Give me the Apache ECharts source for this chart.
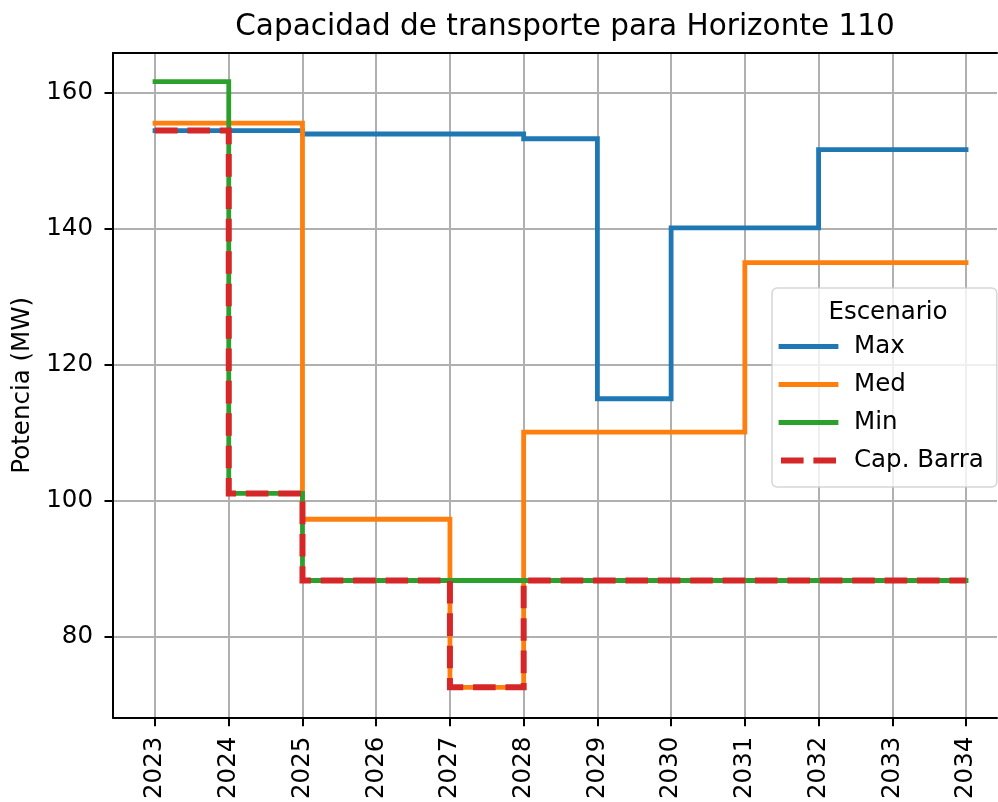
<!DOCTYPE html>
<html>
<head>
<meta charset="utf-8">
<script src="https://cdn.jsdelivr.net/npm/echarts@6/dist/echarts.min.js"></script>
<style>
  html, body { margin: 0; padding: 0; background: #fff; }
  #main { width: 998px; height: 802px; }
</style>
</head>
<body>
<div id="main"></div>
<script>
// datos
var years = [2023, 2024, 2025, 2026, 2027, 2028, 2029, 2030, 2031, 2032, 2033, 2034];
var maxVals = [154.4, 154.4, 153.9, 153.9, 153.9, 153.2, 115.0, 140.1, 140.1, 151.6, 151.6, 151.6];
var medVals = [155.5, 155.5, 97.3, 97.3, 72.6, 110.1, 110.1, 110.1, 135.0, 135.0, 135.0, 135.0];
var minVals = [161.6, 101.1, 88.3, 88.3, 88.3, 88.3, 88.3, 88.3, 88.3, 88.3, 88.3, 88.3];
var capVals = [154.4, 101.1, 88.3, 88.3, 72.6, 88.3, 88.3, 88.3, 88.3, 88.3, 88.3, 88.3];
var yTicks = [80, 100, 120, 140, 160];

var font = 'DejaVu Sans';
var fs = 24.5;
var dash = [22.6, 9.8];
var myChart = echarts.init(document.getElementById('main'), null, {renderer: 'canvas'});

function pares(vals) {
    return years.map(function (y, i) { return [y, vals[i]]; });
}

function serie(name, vals, color, dashed) {
    return {
        name: name,
        type: 'line',
        step: 'end',
        data: pares(vals),
        symbol: 'none',
        showSymbol: false,
        animation: false,
        lineStyle: {
            color: color,
            width: dashed ? 6 : 4.8,
            type: dashed ? dash : 'solid',
            cap: dashed ? 'butt' : 'square',
            join: 'miter'
        },
        itemStyle: {color: color}
    };
}

var option = {
    backgroundColor: '#fff',
    animation: false,
    title: [
        {
            text: 'Capacidad de transporte para Horizonte 110',
            left: 560, top: 7, textAlign: 'center',
            textStyle: {fontFamily: font, fontSize: 29.5, fontWeight: 'normal', color: '#000'}
        },
        {
            text: 'Escenario',
            left: 883, top: 295, textAlign: 'center',
            textStyle: {fontFamily: font, fontSize: fs, fontWeight: 'normal', color: '#000'}
        }
    ],
    grid: {
        left: 113, top: 53, width: 884, height: 665,
        show: false, containLabel: false
    },
    legend: {
        orient: 'vertical',
        left: 772, top: 288,
        padding: [46, 13, 14, 6],
        itemWidth: 55, itemHeight: 24, itemGap: 13,
        backgroundColor: 'rgba(255,255,255,0.8)',
        borderColor: 'rgba(204,204,204,0.8)', borderWidth: 1.5, borderRadius: 5,
        itemStyle: {opacity: 0},
        lineStyle: {width: 4.8},
        data: [
            {name: 'Max'},
            {name: 'Med'},
            {name: 'Min'},
            {name: 'Cap. Barra', lineStyle: {width: 6, type: dash, cap: 'butt'}}
        ],
        textStyle: {fontFamily: font, fontSize: fs, color: '#000', padding: [0, 0, 0, 13]}
    },
    xAxis: [
        {
            type: 'value', min: 2022.43, max: 2034.42,
            axisLine: {show: true, onZero: false, lineStyle: {color: '#000', width: 2}},
            axisTick: {show: true, customValues: years, length: 8.5, lineStyle: {color: '#000', width: 2}},
            axisLabel: {
                customValues: years, rotate: 90, margin: 19,
                fontFamily: font, fontSize: fs, color: '#000',
                formatter: function (v) { return String(v); }
            },
            splitLine: {show: true, lineStyle: {color: '#b0b0b0', width: 2}}
        },
        {
            // borde superior
            type: 'value', position: 'top', min: 2022.43, max: 2034.42,
            axisLine: {show: true, onZero: false, lineStyle: {color: '#000', width: 2}},
            axisTick: {show: false}, axisLabel: {show: false}, splitLine: {show: false}
        }
    ],
    yAxis: {
        type: 'value', min: 68.15, max: 165.8,
        name: 'Potencia (MW)', nameLocation: 'middle', nameGap: 78,
        nameTextStyle: {fontFamily: font, fontSize: fs, color: '#000'},
        axisLine: {show: true, onZero: false, lineStyle: {color: '#000', width: 2}},
        axisTick: {show: true, customValues: yTicks, length: 8.5, lineStyle: {color: '#000', width: 2}},
        axisLabel: {customValues: yTicks, margin: 20, fontFamily: font, fontSize: fs, color: '#000'},
        splitLine: {show: true, lineStyle: {color: '#b0b0b0', width: 2}}
    },
    series: [
        serie('Max', maxVals, '#1f77b4', false),
        serie('Med', medVals, '#ff7f0e', false),
        serie('Min', minVals, '#2ca02c', false),
        serie('Cap. Barra', capVals, '#d62728', true)
    ]
};

myChart.setOption(option);
</script>
</body>
</html>
